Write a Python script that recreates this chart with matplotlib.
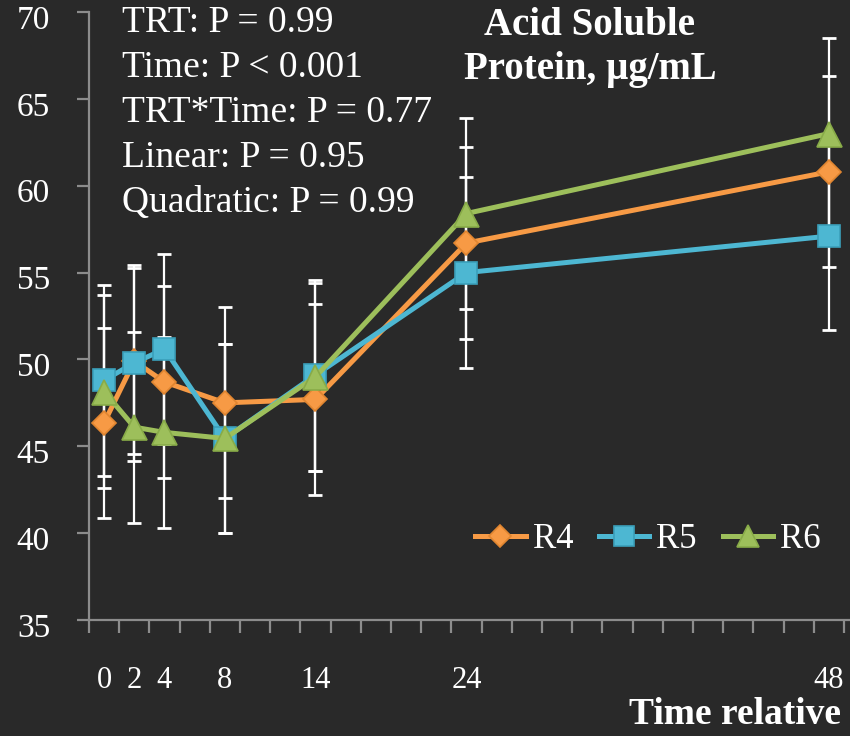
"""
Acid soluble protein (ug/mL) over time relative to feeding for R4, R5, R6,
drawn on a dark chalkboard-style background.

Saves to ./out.png
"""
import matplotlib
matplotlib.use("Agg")
import matplotlib.pyplot as plt
import matplotlib.transforms as mtransforms
from matplotlib.ticker import MultipleLocator, FixedLocator

hours = [0, 2, 4, 8, 14, 24, 48]
r4 = [46.35, 49.9, 48.7, 47.5, 47.7, 56.7, 60.8]
r5 = [48.8, 49.8, 50.6, 45.45, 49.1, 55.0, 57.1]
r6 = [48.15, 46.1, 45.8, 45.45, 49.0, 58.4, 63.0]
r4_err = [5.45, 5.35, 5.5, 5.5, 5.5, 5.5, 5.5]
r5_err = [5.5, 5.65, 5.45, 5.45, 5.5, 5.5, 5.4]
r6_err = [5.55, 5.5, 5.5, 5.45, 5.4, 5.5, 5.5]

series_names = ["R4", "R5", "R6"]
stats_lines = [
    "TRT: P = 0.99",
    "Time: P < 0.001",
    "TRT*Time: P = 0.77",
    "Linear: P = 0.95",
    "Quadratic: P = 0.99",
]
title_lines = ["Acid Soluble", "Protein, \u00b5g/mL"]
xlabel_text = "Time relative"

BG = "#292929"
AXIS_GREY = "#8c8c8c"
COLORS = ["#F79A45", "#4DB7D2", "#9DBF5B"]
EDGES = ["#E08530", "#3A9FBA", "#88AB48"]
MARKERS = ["D", "s", "^"]
MSIZES = [12.5, 16, 18]

plt.rcParams.update({"font.family": ["Liberation Serif", "DejaVu Serif"]})

W, H = 850, 736
fig = plt.figure(figsize=(W / 100, H / 100), dpi=100, facecolor=BG)
# plot box: y-axis at x=89 px, 35 at y=620 px, 70 at y=12 px
ax = fig.add_axes([89 / W, (H - 620) / H, (W - 89) / W, 608 / H])
ax.set_facecolor(BG)

for i, (vals, errs) in enumerate(zip([r4, r5, r6], [r4_err, r5_err, r6_err])):
    ax.errorbar(hours, vals, yerr=errs, fmt="none", ecolor="white",
                elinewidth=1.6, capsize=5, capthick=2.0, zorder=2)

for i, vals in enumerate([r4, r5, r6]):
    ax.plot(hours, vals, color=COLORS[i], lw=3.6, marker=MARKERS[i],
            ms=MSIZES[i], mfc=COLORS[i], mec=EDGES[i], mew=1.2,
            label=series_names[i], zorder=3 + i)

ax.set_xlim(-1, 49.4)
ax.set_ylim(35, 70)

for side in ("top", "right"):
    ax.spines[side].set_visible(False)
for side in ("left", "bottom"):
    ax.spines[side].set_color(AXIS_GREY)
    ax.spines[side].set_linewidth(1.6)

ax.yaxis.set_major_locator(MultipleLocator(5))
ax.tick_params(axis="y", direction="out", length=9, width=1.6,
               color=AXIS_GREY, labelcolor="white", labelsize=24, pad=19)
# nudge the y labels down a little
shift = mtransforms.ScaledTranslation(0, -5 / 100, fig.dpi_scale_trans)
for lab in ax.get_yticklabels():
    lab.set_transform(lab.get_transform() + shift)

ax.xaxis.set_major_locator(FixedLocator(hours))
ax.xaxis.set_minor_locator(FixedLocator(list(range(-1, 50, 2))))
ax.tick_params(axis="x", which="major", length=0, labelcolor="white",
               labelsize=22, pad=33)
ax.tick_params(axis="x", which="minor", direction="out", length=9,
               width=1.6, color=AXIS_GREY)

fig.text(122 / W, 1 - 6 / H, "\n".join(stats_lines), color="white",
         fontsize=27, va="top", ha="left", linespacing=1.39)
fig.text(590 / W, 1 - 7 / H, "\n".join(title_lines), color="white",
         fontsize=28, fontweight="bold", va="top", ha="center",
         linespacing=1.25)
fig.text(629 / W, 1 - 715 / H, xlabel_text, color="white", fontsize=27,
         fontweight="bold", va="center", ha="left")

leg = ax.legend(loc="center", bbox_to_anchor=(648 / W, 1 - 540 / H),
                bbox_transform=fig.transFigure, ncol=3, frameon=False,
                fontsize=25, handlelength=1.45, handletextpad=0.2,
                columnspacing=0.75, markerscale=0.9)
for t in leg.get_texts():
    t.set_color("white")

fig.savefig("out.png", dpi=100, facecolor=BG)
